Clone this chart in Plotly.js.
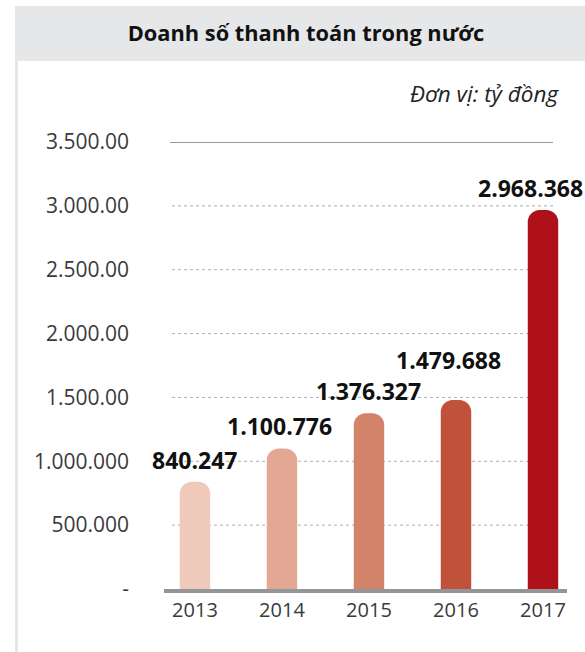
<!DOCTYPE html>
<html>
<head>
<meta charset="utf-8">
<script src="https://cdn.plot.ly/plotly-3.0.1.min.js"></script>
<style>
  html, body { margin: 0; padding: 0; background: #ffffff; }
  #chart { width: 585px; height: 652px; }
</style>
</head>
<body>
<div id="chart"></div>
<script>
// ---- data ----
const categories = ['2013', '2014', '2015', '2016', '2017'];
const values = [840247, 1100776, 1376327, 1479688, 2968368];
const tickVals = [0, 500000, 1000000, 1500000, 2000000, 2500000, 3000000, 3500000];
const tickText = ['-', '500.000', '1.000.000', '1.500.00', '2.000.00', '2.500.00', '3.000.00', '3.500.00'];
const titleText = 'Doanh số thanh toán trong nước';
const unitText = 'Đơn vị: tỷ đồng';

// ---- style ----
const barColors = ['#efc9ba', '#e3a893', '#d4836b', '#c0523b', '#ae111a'];
const labelXShift = [0, -2, 0, -7, -12];
const labelYShift = [4, 4, 4, 22, 4];
const W = 585, H = 652;
const L = 164, R = 567, T = 142, B = 589;
const FONT = 'Open Sans, Noto Sans, sans-serif';

const pxX = x => (x - L) / (R - L);
const pxY = y => (B - y) / (B - T);
const fmt = n => String(n).replace(/\B(?=(\d{3})+(?!\d))/g, '.');

const trace = {
  type: 'bar',
  x: categories,
  y: values,
  width: 0.35,
  marker: { color: barColors, cornerradius: 12, line: { width: 0 } },
  hoverinfo: 'skip'
};

const shapes = [];
// title band
shapes.push({ type: 'rect', xref: 'paper', yref: 'paper', layer: 'below',
  x0: pxX(15), x1: pxX(585), y0: pxY(61), y1: pxY(6),
  fillcolor: '#e6e7e8', line: { width: 0 } });
// left frame line
shapes.push({ type: 'line', xref: 'paper', yref: 'paper', layer: 'below',
  x0: pxX(16.5), x1: pxX(16.5), y0: pxY(61), y1: pxY(652),
  line: { color: '#e6e7e8', width: 3 } });
// grid lines
tickVals.forEach((v, i) => {
  if (i === 0) return;
  const top = i === tickVals.length - 1;
  shapes.push({ type: 'line', xref: 'paper', yref: 'y', layer: 'below',
    x0: pxX(top ? 170 : 172), x1: pxX(553), y0: v, y1: v,
    line: { color: top ? '#9a9a9a' : '#b0b0b0', width: top ? 2 : 1, dash: top ? 'solid' : 'dot' } });
});

// value labels above the bars (x given as category index)
const annotations = values.map((v, i) => ({
  x: i, y: v, xref: 'x', yref: 'y',
  text: '<b>' + fmt(v) + '</b>', showarrow: false,
  xanchor: 'center', yanchor: 'bottom', yshift: labelYShift[i], xshift: labelXShift[i],
  font: { family: FONT, size: 23, color: '#111111' }
}));
annotations.push({
  xref: 'paper', yref: 'paper', x: pxX(561), y: pxY(94),
  xanchor: 'right', yanchor: 'middle', showarrow: false,
  text: '<i>' + unitText + '</i>',
  font: { family: FONT, size: 22.5, color: '#222222' }
});

const layout = {
  width: W, height: H,
  margin: { l: L, r: W - R, t: T, b: H - B, pad: 0 },
  paper_bgcolor: '#ffffff', plot_bgcolor: 'rgba(0,0,0,0)',
  showlegend: false,
  title: {
    text: '<b>' + titleText + '</b>',
    xref: 'container', yref: 'container',
    x: 306 / W, y: 1 - 33 / H, xanchor: 'center', yanchor: 'middle',
    font: { family: FONT, size: 21.8, color: '#111111' }
  },
  xaxis: {
    type: 'category',
    range: [-0.356, 4.276],
    showgrid: false, zeroline: false,
    showline: true, linecolor: '#939598', linewidth: 4,
    ticks: '', tickfont: { family: FONT, size: 20, color: '#3a3a3a' },
    fixedrange: true
  },
  yaxis: {
    range: [0, 3500000],
    tickmode: 'array', tickvals: tickVals, ticktext: tickText,
    showgrid: false, zeroline: false, showline: false,
    ticks: '', ticklabelstandoff: 34,
    tickfont: { family: FONT, size: 21, color: '#3a3a3a' },
    fixedrange: true
  },
  shapes: shapes,
  annotations: annotations
};

Plotly.newPlot('chart', [trace], layout, { displayModeBar: false, staticPlot: true });
</script>
</body>
</html>
